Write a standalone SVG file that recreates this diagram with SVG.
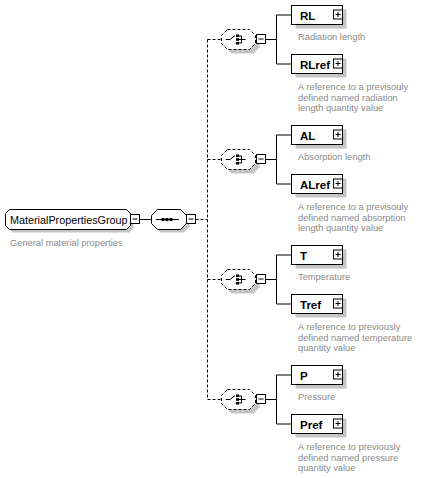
<svg xmlns="http://www.w3.org/2000/svg" xmlns:xlink="http://www.w3.org/1999/xlink" width="429" height="478" viewBox="0 0 429 478">
<style>
.bg{fill:#ffffff}
.ln{fill:none;stroke:#000;stroke-width:1}
.dl{fill:none;stroke:#000;stroke-width:1;stroke-dasharray:3,2}
.box{fill:#fff;stroke:#000;stroke-width:1}
.dbox{fill:#fff;stroke:#000;stroke-width:1;stroke-dasharray:3,2}
.sh{fill:#c4c4c4;stroke:none}
.blk{fill:#000;stroke:none}
.nm{font-family:"Liberation Sans",Arial,sans-serif;font-size:11.5px;font-weight:bold;fill:#000}
.gn{font-family:"Liberation Sans",Arial,sans-serif;font-size:10.8px;fill:#000}
.ds{font-family:"Liberation Sans",Arial,sans-serif;font-size:9.3px;fill:#8a8a8a}
</style>
<defs>
  <g id="minus">
    <rect class="box" x="0" y="0" width="9" height="9"/>
    <path class="ln" d="M2,4.5 H7"/>
  </g>
  <g id="plus">
    <rect class="box" x="0" y="0" width="9" height="9"/>
    <path class="ln" d="M2,4.5 H7 M4.5,2 V7"/>
  </g>
  <g id="choice">
    <path class="sh" d="M231.5,-6 H253.5 L259.5,0 V8 L253.5,14 H231.5 L225.5,8 V0 Z"/>
    <path class="dbox" d="M227.5,-10 H249.5 L255.5,-4 V4 L249.5,10 H227.5 L221.5,4 V-4 Z"/>
    <path class="ln" d="M226,0 H230 L235,-4"/>
    <rect class="blk" x="236" y="-5" width="3" height="2.6"/>
    <rect class="blk" x="236" y="-1.3" width="3" height="2.6"/>
    <rect class="blk" x="236" y="2.4" width="3" height="2.6"/>
    <path class="ln" d="M239,-3.5 H241.5 V3.5 H239 M239,0 H245.5"/>
    <use xlink:href="#minus" x="256.5" y="-5"/>
  </g>
  <g id="elem">
    <rect class="sh" x="295.5" y="9.5" width="51" height="19"/>
    <rect class="box" x="291.5" y="5.5" width="51" height="19"/>
    <use xlink:href="#plus" x="333.5" y="10"/>
  </g>
</defs>

<rect class="bg" x="0" y="0" width="429" height="478"/>

<g id="connectors">
  <path class="ln" d="M139.5,219.5 H151.5"/>
  <path class="dl" d="M195.5,219.5 H207.5"/>
  <path class="dl" d="M207.5,39.5 V399.5"/>
  <path class="dl" d="M207.5,39.5 H221.5 M207.5,159.5 H221.5 M207.5,279.5 H221.5 M207.5,399.5 H221.5"/>
  <path class="ln" d="M265.5,39.5 H276.5 M276.5,15 V64 M276.5,15 H291.5 M276.5,64 H291.5"/>
  <path class="ln" d="M265.5,159.5 H276.5 M276.5,135 V184 M276.5,135 H291.5 M276.5,184 H291.5"/>
  <path class="ln" d="M265.5,279.5 H276.5 M276.5,255 V304 M276.5,255 H291.5 M276.5,304 H291.5"/>
  <path class="ln" d="M265.5,399.5 H276.5 M276.5,375 V424 M276.5,375 H291.5 M276.5,424 H291.5"/>
</g>

<g id="MaterialPropertiesGroup">
  <path class="sh" d="M12.5,212.5 H129.5 L133.5,216.5 V228.5 L129.5,232.5 H12.5 L8.5,228.5 V216.5 Z"/>
  <path class="box" d="M9.5,209.5 H126.5 L130.5,213.5 V225.5 L126.5,229.5 H9.5 L5.5,225.5 V213.5 Z"/>
  <use xlink:href="#minus" x="130.5" y="214.5"/>
  <text class="gn" x="10" y="223.5">MaterialPropertiesGroup</text>
  <text class="ds" x="10" y="245.5">General material properties</text>
</g>

<g id="sequence">
  <path class="sh" d="M160.5,212.5 H183.5 L189.5,218.5 V226.5 L183.5,232.5 H160.5 L154.5,226.5 V218.5 Z"/>
  <path class="box" d="M157.5,209.5 H180.5 L186.5,215.5 V223.5 L180.5,229.5 H157.5 L151.5,223.5 V215.5 Z"/>
  <path class="ln" d="M156,219.5 H179"/>
  <rect class="blk" x="161.5" y="218" width="3" height="3"/>
  <rect class="blk" x="165.5" y="218" width="3" height="3"/>
  <rect class="blk" x="169.5" y="218" width="3" height="3"/>
  <use xlink:href="#minus" x="186.5" y="214.5"/>
</g>

<g id="choice1" transform="translate(0,39.5)"><use xlink:href="#choice"/></g>
<g id="choice2" transform="translate(0,159.5)"><use xlink:href="#choice"/></g>
<g id="choice3" transform="translate(0,279.5)"><use xlink:href="#choice"/></g>
<g id="choice4" transform="translate(0,399.5)"><use xlink:href="#choice"/></g>

<g id="RL">
  <use xlink:href="#elem"/>
  <text class="nm" x="300" y="19.5">RL</text>
  <text class="ds" x="298" y="40">Radiation length</text>
</g>
<g id="RLref" transform="translate(0,49)">
  <use xlink:href="#elem"/>
  <text class="nm" x="300" y="19.5">RLref</text>
  <text class="ds" x="298" y="41">A reference to a previsouly</text>
  <text class="ds" x="298" y="51.5">defined named radiation</text>
  <text class="ds" x="298" y="62">length quantity value</text>
</g>

<g id="AL" transform="translate(0,120)">
  <use xlink:href="#elem"/>
  <text class="nm" x="300" y="19.5">AL</text>
  <text class="ds" x="298" y="40">Absorption length</text>
</g>
<g id="ALref" transform="translate(0,169)">
  <use xlink:href="#elem"/>
  <text class="nm" x="300" y="19.5">ALref</text>
  <text class="ds" x="298" y="41">A reference to a previsouly</text>
  <text class="ds" x="298" y="51.5">defined named absorption</text>
  <text class="ds" x="298" y="62">length quantity value</text>
</g>

<g id="T" transform="translate(0,240)">
  <use xlink:href="#elem"/>
  <text class="nm" x="300" y="19.5">T</text>
  <text class="ds" x="298" y="40">Temperature</text>
</g>
<g id="Tref" transform="translate(0,289)">
  <use xlink:href="#elem"/>
  <text class="nm" x="300" y="19.5">Tref</text>
  <text class="ds" x="298" y="41">A reference to previously</text>
  <text class="ds" x="298" y="51.5">defined named temperature</text>
  <text class="ds" x="298" y="62">quantity value</text>
</g>

<g id="P" transform="translate(0,360)">
  <use xlink:href="#elem"/>
  <text class="nm" x="300" y="19.5">P</text>
  <text class="ds" x="298" y="40">Pressure</text>
</g>
<g id="Pref" transform="translate(0,409)">
  <use xlink:href="#elem"/>
  <text class="nm" x="300" y="19.5">Pref</text>
  <text class="ds" x="298" y="41">A reference to previously</text>
  <text class="ds" x="298" y="51.5">defined named pressure</text>
  <text class="ds" x="298" y="62">quantity value</text>
</g>
</svg>
